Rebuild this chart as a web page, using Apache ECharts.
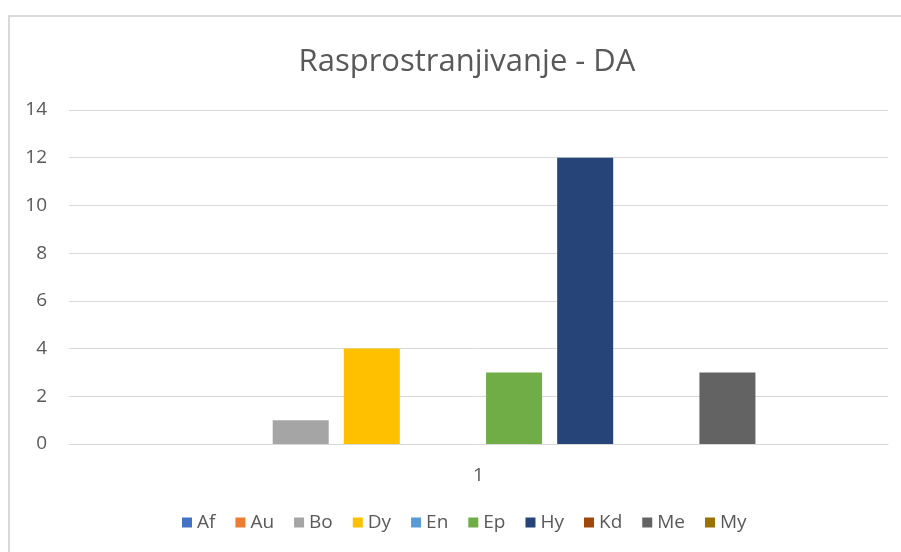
<!DOCTYPE html>
<html><head><meta charset="utf-8">
<script src="https://cdn.jsdelivr.net/npm/echarts@6/dist/echarts.min.js"></script>
<style>html,body{margin:0;padding:0;background:#fff}#c{width:901px;height:552px}</style>
</head><body><div id="c"></div>
<script>
const categories = ['1'];
const seriesNames = ['Af','Au','Bo','Dy','En','Ep','Hy','Kd','Me','My'];
const seriesValues = [0,0,1,4,0,3,12,0,3,0];
const colors = ['#4472C4','#ED7D31','#A5A5A5','#FFC000','#5B9BD5','#70AD47','#264478','#9E480E','#636363','#997300'];
const yTicks = [0,2,4,6,8,10,12,14];

const chart = echarts.init(document.getElementById('c'));
const font = 'Open Sans, sans-serif';
chart.setOption({
  animation:false,
  color: colors,
  title:{text:'Rasprostranjivanje - DA', left: 462, textAlign:'center', top:42,
    textStyle:{fontFamily:font,fontSize:31,fontWeight:'normal',color:'#595959'}},
  graphic:[{type:'rect',shape:{x:9,y:16,width:1000,height:1000},style:{fill:'none',stroke:'#d9d9d9',lineWidth:2},silent:true}],
  grid:{left:69,right:13,top:110,bottom:108},
  legend:{bottom:15,left:177,itemWidth:10,itemHeight:10,itemGap:20,icon:'rect',
    textStyle:{fontFamily:font,fontSize:19,color:'#595959'},data:seriesNames},
  xAxis:{type:'category',data:categories,axisTick:{show:false},
    axisLine:{lineStyle:{color:'#d9d9d9',width:1}},
    axisLabel:{fontFamily:font,fontSize:19,color:'#595959',margin:22}},
  yAxis:{type:'value',min:yTicks[0],max:yTicks[yTicks.length-1],interval:2,
    axisLine:{show:false},axisTick:{show:false},
    splitLine:{lineStyle:{color:'#d9d9d9',width:1}},
    axisLabel:{fontFamily:font,fontSize:19,color:'#595959',margin:22}},
  series: seriesNames.map((n,i)=>({name:n,type:'bar',data:[seriesValues[i]],barWidth:56,barGap:'27%',
    itemStyle:{color:colors[i]}}))
});
</script></body></html>
